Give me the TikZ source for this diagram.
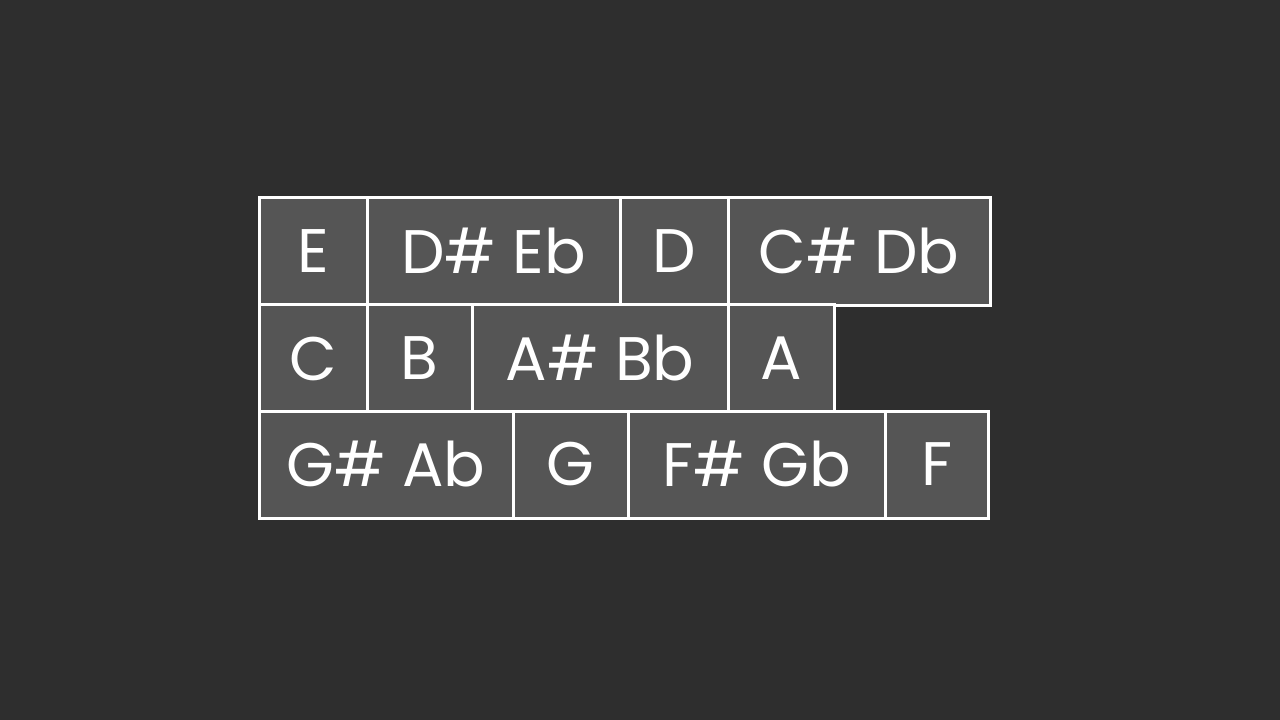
\documentclass[tikz,border=0pt]{standalone}
\usepackage{fontspec}
\setmainfont{Poppins}
\usetikzlibrary{positioning}

\definecolor{bggray}{HTML}{2E2E2E}
\definecolor{cellgray}{HTML}{555555}

\tikzset{
    cell/.style={draw=white, line width=0.6mm, fill=cellgray, text=white,
        inner sep=0pt, outer sep=0pt, minimum height=21.4mm,
        font=\fontsize{35}{40}\selectfont, anchor=north west},
}

\begin{document}
\begin{tikzpicture}[x=0.2mm,y=-0.2mm]
    % Fondo oscuro del gráfico
    \fill[bggray] (0,0) rectangle (1280,720);

    % Esquinas de cada fila
    \coordinate (R1) at (259,198);
    \coordinate (R2) at (259,305);
    \coordinate (R3) at (259,411);

    % Primera fila
    \node[cell, minimum width=21.6mm] (e) at (R1) {E};
    \node[cell, minimum width=50.6mm] (ds) at (e.north east) {D\# Eb};
    \node[cell, minimum width=21.6mm] (d) at (ds.north east) {D};
    \node[cell, minimum width=52.4mm] (cs) at (d.north east) {C\# Db};

    % Segunda fila
    \node[cell, minimum width=21.6mm] (c) at (R2) {C};
    \node[cell, minimum width=21.0mm] (b) at (c.north east) {B};
    \node[cell, minimum width=51.2mm] (as) at (b.north east) {A\# Bb};
    \node[cell, minimum width=21.2mm] (a) at (as.north east) {A};

    % Tercera fila
    \node[cell, minimum width=50.8mm] (gs) at (R3) {G\# Ab};
    \node[cell, minimum width=23.0mm] (g) at (gs.north east) {G};
    \node[cell, minimum width=51.4mm] (fs) at (g.north east) {F\# Gb};
    \node[cell, minimum width=20.6mm] (f) at (fs.north east) {F};
\end{tikzpicture}
\end{document}
